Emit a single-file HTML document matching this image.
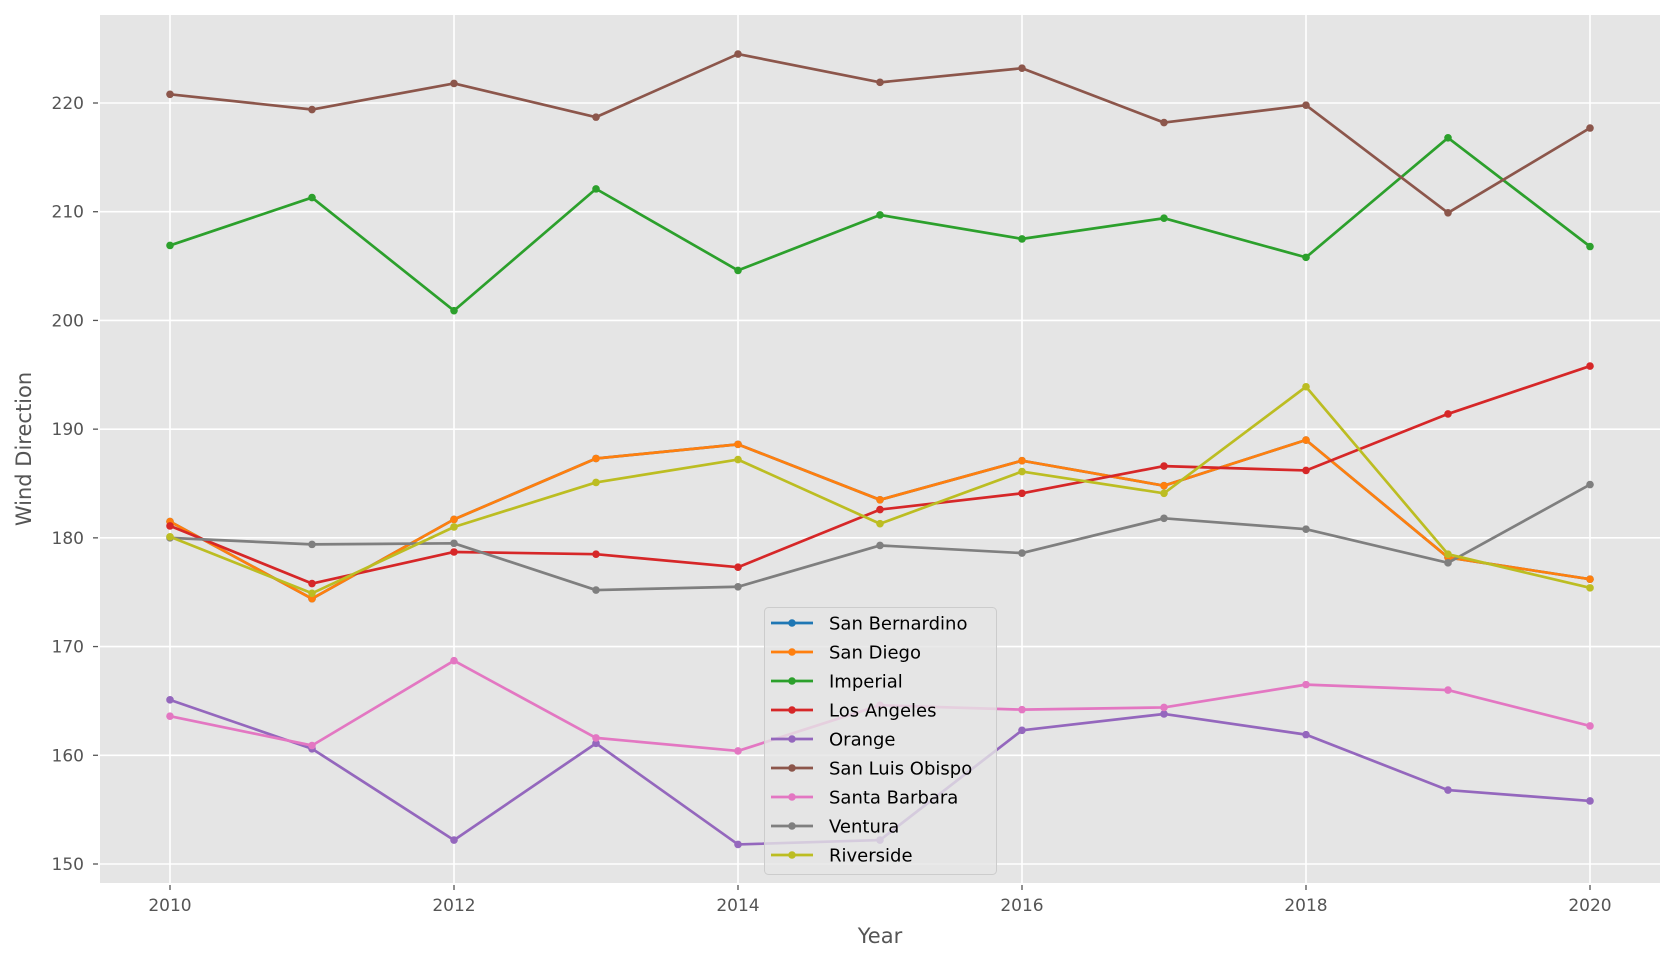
<!DOCTYPE html>
<html><head><meta charset="utf-8"><style>
body{margin:0;background:#fff;}
svg{display:block;font-family:"DejaVu Sans","Liberation Sans",sans-serif;}
</style></head><body>
<svg id="chart" width="1675" height="963" viewBox="0 0 1675 963" xmlns="http://www.w3.org/2000/svg">
<rect x="100" y="15" width="1560" height="868" fill="#e5e5e5"/>
<g id="grid"></g><g id="ticks"></g><g id="series"></g><g id="legend"></g>
<text x="880" y="943" font-size="21" fill="#555" text-anchor="middle">Year</text>
<text transform="translate(31,449) rotate(-90)" font-size="21" fill="#555" text-anchor="middle">Wind Direction</text>
</svg>
<script>
const years = [2010,2011,2012,2013,2014,2015,2016,2017,2018,2019,2020];
const seriesNames = ["San Bernardino","San Diego","Imperial","Los Angeles","Orange","San Luis Obispo","Santa Barbara","Ventura","Riverside"];
const seriesColors = ["#1f77b4","#ff7f0e","#2ca02c","#d62728","#9467bd","#8c564b","#e377c2","#7f7f7f","#bcbd22"];
const sanBernardino = [181.5,174.4,181.7,187.3,188.6,183.5,187.1,184.8,189.0,178.2,176.2];
const sanDiego = [181.5,174.4,181.7,187.3,188.6,183.5,187.1,184.8,189.0,178.2,176.2];
const imperial = [206.9,211.3,200.9,212.1,204.6,209.7,207.5,209.4,205.8,216.8,206.8];
const losAngeles = [181.1,175.8,178.7,178.5,177.3,182.6,184.1,186.6,186.2,191.4,195.8];
const orange = [165.1,160.6,152.2,161.1,151.8,152.2,162.3,163.8,161.9,156.8,155.8];
const sanLuisObispo = [220.8,219.4,221.8,218.7,224.5,221.9,223.2,218.2,219.8,209.9,217.7];
const santaBarbara = [163.6,160.9,168.7,161.6,160.4,164.6,164.2,164.4,166.5,166.0,162.7];
const ventura = [180.0,179.4,179.5,175.2,175.5,179.3,178.6,181.8,180.8,177.7,184.9];
const riverside = [180.1,174.9,181.0,185.1,187.2,181.3,186.1,184.1,193.9,178.5,175.4];
const xTicks = [2010,2012,2014,2016,2018,2020];
const yTicks = [150,160,170,180,190,200,210,220];

const allSeries = [sanBernardino,sanDiego,imperial,losAngeles,orange,sanLuisObispo,santaBarbara,ventura,riverside];
const NS = "http://www.w3.org/2000/svg";
const X = v => 170 + (v-2010)*(1590-170)/10;
const Y = v => 864 - (v-150)*(864-103)/70;
function mk(tag, attrs, parent){const e=document.createElementNS(NS,tag);for(const k in attrs)e.setAttribute(k,attrs[k]);parent.appendChild(e);return e;}
const grid=document.getElementById('grid'), ticks=document.getElementById('ticks'), ser=document.getElementById('series'), leg=document.getElementById('legend');
xTicks.forEach(t=>{
  const l=mk('line',{x1:X(t),x2:X(t),y1:15,y2:883,stroke:'#fff','stroke-width':1.6},grid);
  
  
  const tk=mk('line',{x1:X(t),x2:X(t),y1:885,y2:890,stroke:'#555','stroke-width':1.3},ticks);
  
  
  const tx=mk('text',{x:X(t),y:911,'font-size':17,fill:'#555','text-anchor':'middle'},ticks);
  tx.textContent=t;
  
  
});
yTicks.forEach(t=>{
  const l=mk('line',{x1:100,x2:1660,y1:Y(t),y2:Y(t),stroke:'#fff','stroke-width':1.6},grid);
  
  
  const tk=mk('line',{x1:93,x2:98,y1:Y(t),y2:Y(t),stroke:'#555','stroke-width':1.3},ticks);
  
  
  const tx=mk('text',{x:84,y:Y(t)+6,'font-size':17,fill:'#555','text-anchor':'end'},ticks);
  tx.textContent=t;
  
  
});
allSeries.forEach((vals,i)=>{
  const g=mk('g',{},ser);
  
  
  const pl=mk('polyline',{points:vals.map((v,j)=>X(years[j])+','+Y(v)).join(' '),fill:'none',stroke:seriesColors[i],'stroke-width':2.7,'stroke-linejoin':'round'},g);
  
  
  vals.forEach((v,j)=>{
    const c=mk('circle',{cx:X(years[j]),cy:Y(v),r:3.8,fill:seriesColors[i]},g);
    
    
  });
});
const box=mk('rect',{x:764.5,y:607.5,width:232,height:267,rx:4,fill:'#e5e5e5','fill-opacity':0.8,stroke:'#cccccc'},leg);


seriesNames.forEach((n,i)=>{
  const y=623+i*29;
  const g=mk('g',{},leg);
  
  
  mk('line',{x1:771,x2:813,y1:y,y2:y,stroke:seriesColors[i],'stroke-width':2.7},g);
  mk('circle',{cx:792,cy:y,r:3.8,fill:seriesColors[i]},g);
  const t=mk('text',{x:829,y:y+6.5,'font-size':18,fill:'#000'},g);
  t.textContent=n;
});
</script>
</body></html>
